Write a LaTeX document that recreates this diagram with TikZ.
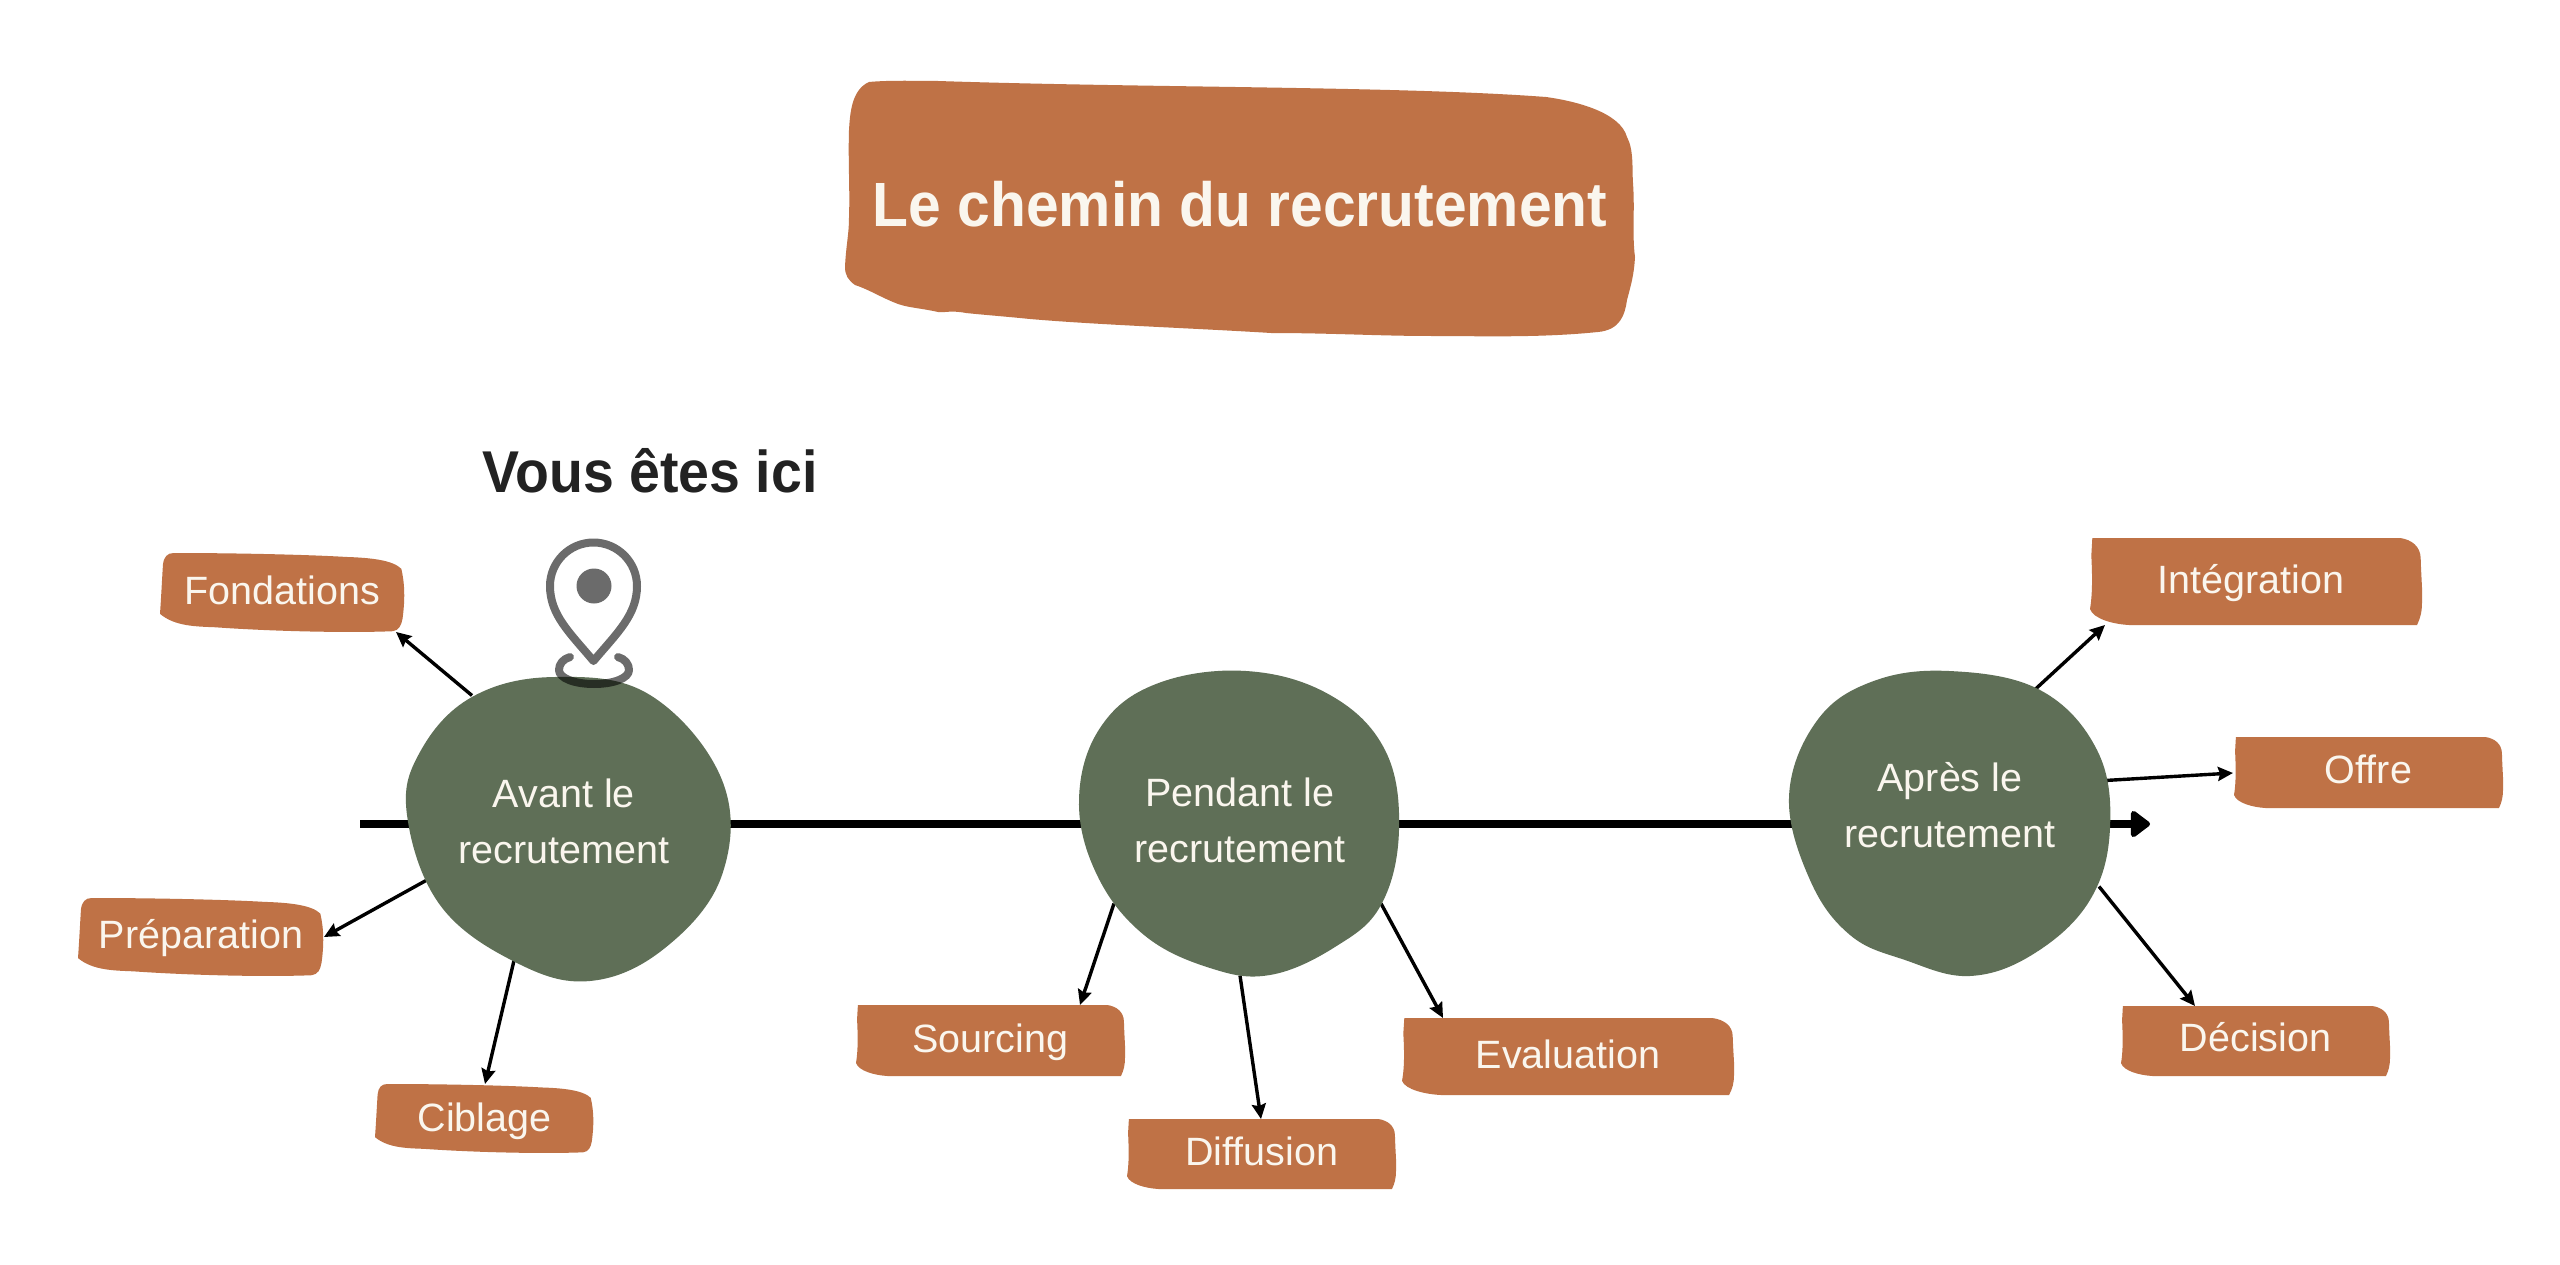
\documentclass[tikz,border=0pt]{standalone}
\usepackage{fontspec}
\setmainfont{Liberation Sans}
\newfontfamily\headfont[FakeStretch=0.94]{Liberation Sans Bold}
\usetikzlibrary{arrows.meta,shapes.geometric}
\definecolor{clay}{HTML}{BF7246}
\definecolor{moss}{HTML}{5F6F57}
\definecolor{cream}{HTML}{FAF6EE}
\definecolor{ink}{HTML}{222222}
\pgfdeclarelayer{bg}
\pgfdeclarelayer{fills}
\pgfsetlayers{bg,fills,main}
\tikzset{
  lbl/.style={inner sep=0pt,outer sep=0pt,text=cream,font=\fontsize{39.5}{48}\selectfont,anchor=base,align=center},
  blobtext/.style={ellipse,inner sep=0pt,outer sep=0pt,minimum width=320pt,minimum height=305pt,text=cream,font=\fontsize{39.5}{56}\selectfont,align=center},
  blobfill/.style={fill=moss,draw=none},
  boxfill/.style={fill=clay,draw=none},
  link/.style={draw=black,line width=3.4pt,-{Stealth[length=15pt,width=14pt,inset=2pt]}},
  spine/.style={draw=black,line width=8pt},
  pinline/.style={draw=black,draw opacity=.58,line width=8pt,line join=round,line cap=round}
}
% rounded hand-cut box
\newcommand{\wobA}[4]{\begin{pgfonlayer}{fills}
  \begin{scope}[shift={(#1,#2)},xscale=#3-#1,yscale=#4-#2]
  \fill[boxfill] (0.056,0) .. controls (0.3,0) and (0.6,0.02) .. (0.76,0.05) .. controls (0.86,0.06) and (0.95,0.09) .. (0.985,0.2) .. controls (1,0.4) and (1,0.6) .. (0.99,0.83) .. controls (0.985,0.92) and (0.975,0.98) .. (0.95,0.99) .. controls (0.8,1.01) and (0.5,1) .. (0.224,0.94) .. controls (0.15,0.93) and (0.06,0.93) .. (0,0.77) .. controls (0.005,0.55) and (0.008,0.35) .. (0.012,0.15) .. controls (0.015,0.05) and (0.03,0) .. (0.056,0) -- cycle;
  \end{scope}\end{pgfonlayer}}
% flat box with a cut lower-left corner
\newcommand{\wobB}[4]{\begin{pgfonlayer}{fills}
  \begin{scope}[shift={(#1,#2)},xscale=#3-#1,yscale=#4-#2]
  \fill[boxfill] (0.007,0) -- (0.934,0) .. controls (0.97,0.02) and (0.995,0.1) .. (0.996,0.23) .. controls (0.998,0.5) and (1.002,0.6) .. (1,0.737) .. controls (1,0.85) and (0.995,0.92) .. (0.985,1) -- (0.117,1) .. controls (0.07,0.99) and (0.01,0.93) .. (0,0.816) .. controls (0.01,0.6) and (0.005,0.3) .. (0.004,0.2) -- cycle;
  \end{scope}\end{pgfonlayer}}
% #1 name #2-#5 box #6 baseline #7 text
\newcommand{\lab}[7]{%
  \pgfmathsetmacro\lw{#4-#2}\pgfmathsetmacro\lh{#6-#3}\pgfmathsetmacro\ld{#5-#6}\pgfmathsetmacro\lx{(#2+#4)/2}%
  \node[lbl,minimum width=\lw pt,text height=\lh pt,text depth=\ld pt] (#1) at (\lx,#6) {#7};}
\begin{document}
\begin{tikzpicture}[x=1pt,y=-1pt]
\useasboundingbox (0,0) rectangle (2560,1265);
\begin{pgfonlayer}{bg}
\fill[white] (0,0) rectangle (2560,1265);
\end{pgfonlayer}

% title
\begin{pgfonlayer}{fills}
\fill[boxfill] (869,82) .. controls (890,80) and (920,81) .. (938,81) .. controls (1150,88) and (1400,86) .. (1546,97) .. controls (1575,101) and (1620,112) .. (1627,137) .. controls (1634,150) and (1632,170) .. (1633,183) .. controls (1635,210) and (1632,235) .. (1635,257) .. controls (1634,275) and (1631,285) .. (1627,300) .. controls (1625,315) and (1620,330) .. (1598,332) .. controls (1540,338) and (1480,336) .. (1431,336) .. controls (1380,336) and (1330,333) .. (1271,333) .. controls (1190,328) and (1100,325) .. (1030,319) .. controls (1000,316) and (985,315) .. (966,313) .. controls (950,310) and (945,313) .. (938,312) .. controls (920,308) and (910,308) .. (898,304) .. controls (880,297) and (870,290) .. (855,285) .. controls (848,280) and (845,275) .. (845,267) .. controls (846,245) and (849,235) .. (849,217) .. controls (850,190) and (848,160) .. (849,130) .. controls (850,115) and (851,90) .. (869,82) -- cycle;
\end{pgfonlayer}
\node[inner sep=0pt,outer sep=0pt,text=cream,font=\headfont\fontsize{62.5}{70}\selectfont,anchor=base,minimum width=790pt,text height=146pt,text depth=109pt] (title) at (1240,227) {Le chemin du recrutement};
\node[inner sep=0pt,outer sep=0pt,text=ink,font=\headfont\fontsize{59}{66}\selectfont,anchor=base] (here) at (650,492) {Vous êtes ici};

% circles
\node[blobtext] (avant) at (564,821.5) {Avant le\\recrutement};
\node[blobtext] (pendant) at (1240,820.5) {Pendant le\\recrutement};
\node[blobtext] (apres) at (1950,805.5) {Après le\\recrutement};
\begin{pgfonlayer}{fills}
\fill[blobfill] plot[smooth cycle,tension=.65] coordinates {(555,677) (472,697) (420,752) (407,815) (440,905) (515,962) (590,981) (665,948) (722,875) (722,780) (650,695)};
\fill[blobfill] plot[smooth cycle,tension=.65] coordinates {(1246,671) (1156,684) (1100,728) (1079,800) (1097,875) (1144,935) (1210,968) (1270,975) (1335,947) (1381,905) (1399,830) (1385,750) (1330,695)};
\fill[blobfill] plot[smooth cycle,tension=.65] coordinates {(1949,671) (1871,682) (1816,722) (1789,797) (1810,880) (1850,935) (1905,960) (1970,976) (2035,953) (2090,900) (2110,828) (2097,750) (2040,690)};
\end{pgfonlayer}

% boxes
\wobA{160}{553}{405}{632}\lab{fond}{160}{553}{405}{632}{604.5}{Fondations}
\wobA{78}{898}{324}{976}\lab{prep}{78}{898}{324}{976}{948}{Préparation}
\wobA{375}{1084}{594}{1153}\lab{cib}{375}{1084}{594}{1153}{1131}{Ciblage}
\wobB{856}{1005}{1125}{1076}\lab{sour}{856}{1005}{1125}{1076}{1052}{Sourcing}
\wobB{1127}{1119}{1396}{1189}\lab{diff}{1127}{1119}{1396}{1189}{1165}{Diffusion}
\wobB{1402}{1018}{1734}{1095}\lab{eval}{1402}{1018}{1734}{1095}{1068}{Evaluation}
\wobB{2090}{538}{2422}{625}\lab{integ}{2090}{538}{2412}{625}{593}{Intégration}
\wobB{2234}{737}{2503}{808}\lab{offre}{2234}{737}{2503}{808}{783}{Offre}
\wobB{2121}{1006}{2390}{1076}\lab{deci}{2121}{1006}{2390}{1076}{1051}{Décision}

% spine
\coordinate (spinestart) at (360,824);
\coordinate (spineend) at (2150,824);
\begin{pgfonlayer}{bg}
\draw[spine] (spinestart) -- (avant.center |- spinestart);
\draw[spine] (avant.center |- spinestart) -- (pendant.center |- spinestart);
\draw[spine] (pendant.center |- spinestart) -- (apres.center |- spinestart);
\draw[spine,-{Triangle[length=21pt,width=30pt,round]}] (apres.center |- spinestart) -- (spineend);
% connectors: the ends are offsets from the node centres
\draw[link] ([shift={(-92,-126)}]avant.center) -- ([shift={(113.5,39.5)}]fond.center);
\draw[link] ([shift={(-138,59)}]avant.center) -- ([shift={(123,0)}]prep.center);
\draw[link] ([shift={(-50,139)}]avant.center) -- ([shift={(0.5,-34.5)}]cib.center);
\draw[link] ([shift={(-126,83)}]pendant.center) -- ([shift={(89.5,-35.5)}]sour.center);
\draw[link] ([shift={(0,155)}]pendant.center) -- ([shift={(-0.5,-35)}]diff.center);
\draw[link] ([shift={(141,83)}]pendant.center) -- ([shift={(-125,-38.5)}]eval.center);
\draw[link] ([shift={(85,-116)}]apres.center) -- ([shift={(-146,43.5)}]integ.center);
\draw[link] ([shift={(155,-25)}]apres.center) -- ([shift={(-135.5,0.5)}]offre.center);
\draw[link] ([shift={(149,81)}]apres.center) -- ([shift={(-60.5,-35)}]deci.center);
\end{pgfonlayer}

% pin
\draw[pinline] (593.5,661) .. controls (570,633) and (550,615) .. (550,586) .. controls (550,562) and (569.5,542.5) .. (593.5,542.5) .. controls (617.5,542.5) and (637,562) .. (637,586) .. controls (637,615) and (617,633) .. (593.5,661) -- cycle;
\fill[black,fill opacity=.58] (594,586) circle (17.5);
\draw[pinline] (570,657) .. controls (563,659) and (559,664) .. (559,670) .. controls (559,678) and (574,684) .. (594,684) .. controls (614,684) and (629,678) .. (629,670) .. controls (629,664) and (625,659) .. (618,657);
\end{tikzpicture}
\end{document}
